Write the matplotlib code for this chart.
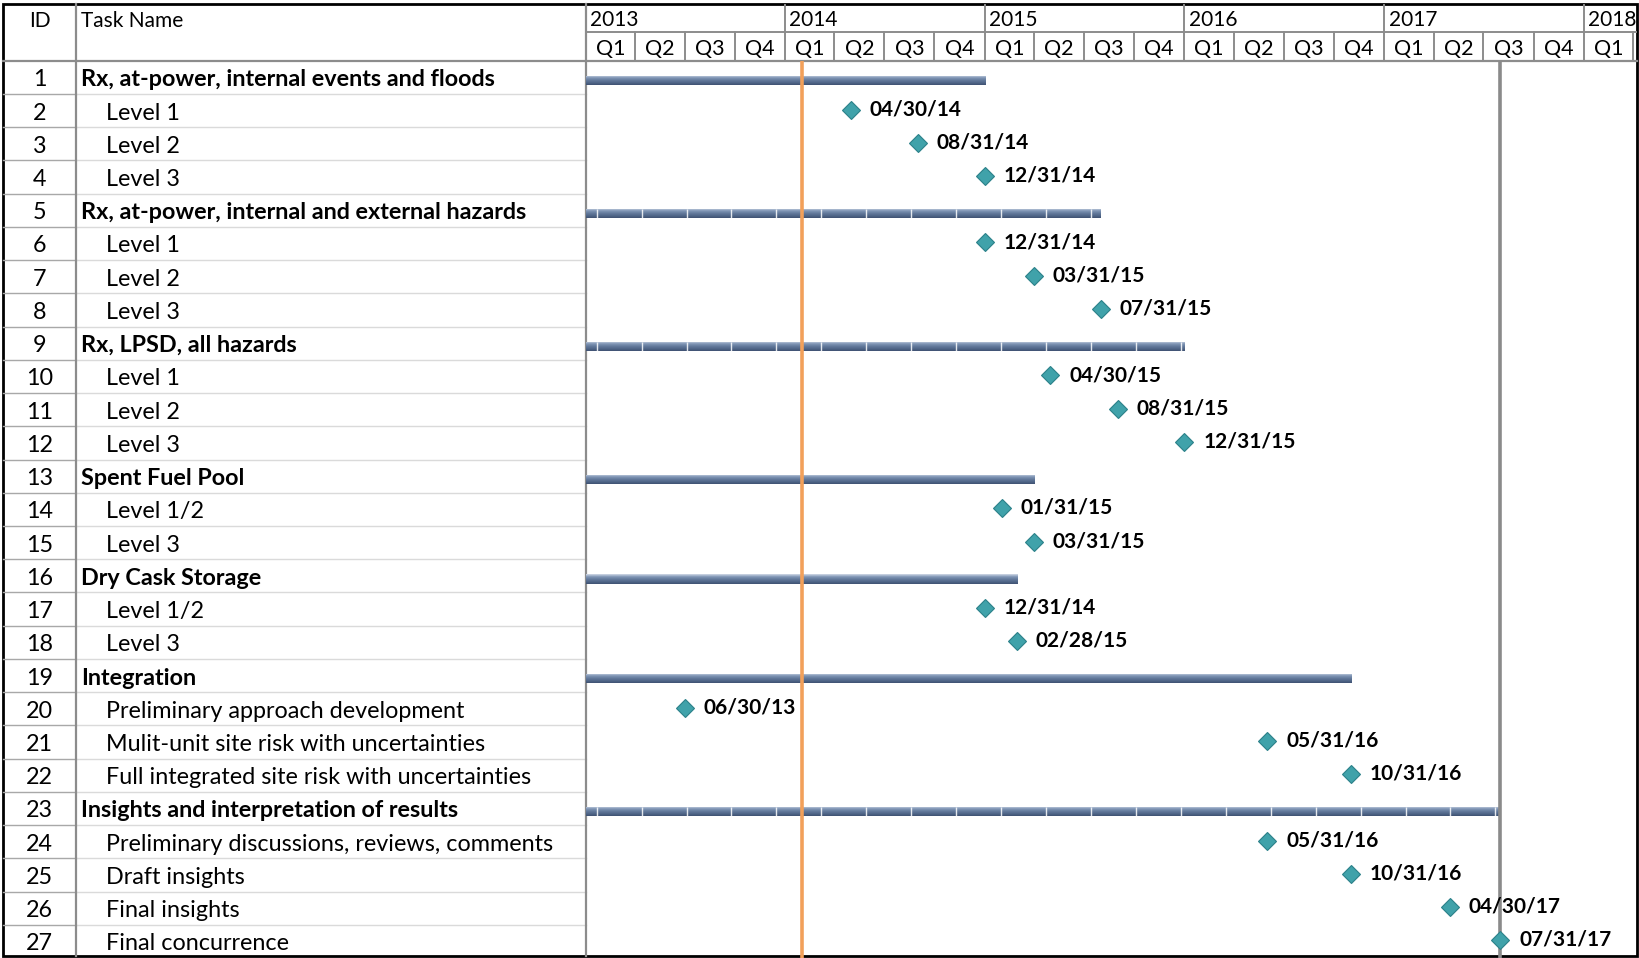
import datetime as dt
import numpy as np
import matplotlib
matplotlib.use("Agg")
import matplotlib.pyplot as plt
import matplotlib.dates as mdates
from matplotlib.colors import LinearSegmentedColormap

plt.rcParams['font.family'] = ['Lato', 'DejaVu Sans']

# ---- schedule data ----
task_names = [
    "Rx, at-power, internal events and floods", "Level 1", "Level 2", "Level 3",
    "Rx, at-power, internal and external hazards", "Level 1", "Level 2", "Level 3",
    "Rx, LPSD, all hazards", "Level 1", "Level 2", "Level 3",
    "Spent Fuel Pool", "Level 1/2", "Level 3",
    "Dry Cask Storage", "Level 1/2", "Level 3",
    "Integration", "Preliminary approach development",
    "Mulit-unit site risk with uncertainties",
    "Full integrated site risk with uncertainties",
    "Insights and interpretation of results",
    "Preliminary discussions, reviews, comments", "Draft insights",
    "Final insights", "Final concurrence",
]
summary_rows = [1, 5, 9, 13, 16, 19, 23]
summary_starts = ["2013-01-01"] * 7
summary_ends = ["2014-12-31", "2015-07-31", "2015-12-31", "2015-03-31",
                "2015-02-28", "2016-10-31", "2017-07-31"]
ticked_rows = [5, 9, 23]

milestone_rows = [2, 3, 4, 6, 7, 8, 10, 11, 12, 14, 15, 17, 18,
                  20, 21, 22, 24, 25, 26, 27]
milestone_dates = ["04/30/14", "08/31/14", "12/31/14",
                   "12/31/14", "03/31/15", "07/31/15",
                   "04/30/15", "08/31/15", "12/31/15",
                   "01/31/15", "03/31/15",
                   "12/31/14", "02/28/15",
                   "06/30/13", "05/31/16", "10/31/16",
                   "05/31/16", "10/31/16", "04/30/17", "07/31/17"]

years = [2013, 2014, 2015, 2016, 2017, 2018]
quarters = ["Q1", "Q2", "Q3", "Q4"]
status_date = "2014-02-01"
project_finish = "2017-07-31"
view_start, view_end = "2013-01-01", "2018-04-08"

# ---- layout (pixels) ----
W, H = 1640, 958
LEFT, RIGHT, TOP, BOTTOM = 3, 1637, 4, 956
ID_X, CHART_X = 76.5, 585.7
HDR_MID, HDR_BOT = 32, 60.7
n_rows = len(task_names)
row_h = (H - HDR_BOT) / n_rows

FS = 16.8       # table text
FS_HDR = 15     # timescale / column headers
FS_LBL = 15     # milestone date labels
bar_cmap = LinearSegmentedColormap.from_list(
    "bar", ["#d3dbe7", "#8499b8", "#657c9e", "#52688a", "#3f5172"])


def d(s):
    return mdates.date2num(dt.datetime.strptime(s, "%Y-%m-%d"))


def md(s):
    return mdates.date2num(dt.datetime.strptime(s, "%m/%d/%y"))


fig = plt.figure(figsize=(W / 100, H / 100), dpi=100)

# table grid and text, in pixel coordinates
bg = fig.add_axes([0, 0, 1, 1])
bg.set_xlim(0, W)
bg.set_ylim(H, 0)
bg.axis("off")

for i in range(1, n_rows):
    y = HDR_BOT + i * row_h
    bg.plot([LEFT, ID_X], [y, y], color="#a8a8a8", lw=1)
    bg.plot([ID_X, CHART_X], [y, y], color="#dadada", lw=1)
bg.plot([LEFT, RIGHT], [HDR_BOT, HDR_BOT], color="#8c8c8c", lw=1.6)
bg.plot([ID_X, ID_X], [TOP, BOTTOM], color="#8c8c8c", lw=1.6)
bg.plot([CHART_X, CHART_X], [TOP, BOTTOM], color="#8c8c8c", lw=1.6)
bg.add_patch(plt.Rectangle((LEFT, TOP), RIGHT - LEFT, BOTTOM - TOP,
                           fill=False, ec="black", lw=2))

bg.text((LEFT + ID_X) / 2, 21, "ID", ha="center", va="center", fontsize=FS_HDR)
bg.text(81, 21, "Task Name", ha="left", va="center", fontsize=FS_HDR)

for i, name in enumerate(task_names):
    row = i + 1
    y = HDR_BOT + (i + 0.5) * row_h + 2.5
    bg.text((LEFT + ID_X) / 2, y, str(row), ha="center", va="center", fontsize=FS)
    if row in summary_rows:
        bg.text(81, y, name, ha="left", va="center", fontsize=FS, fontweight="bold")
    else:
        bg.text(106, y, name, ha="left", va="center", fontsize=FS)

# timescale header
x0, x1 = d(view_start), d(view_end)
hax = fig.add_axes([CHART_X / W, (H - HDR_BOT) / H,
                    (RIGHT - CHART_X) / W, (HDR_BOT - TOP) / H])
hax.set_xlim(x0, x1)
hax.set_ylim(0, 2)
hax.axis("off")
hax.axhline(1, color="#8c8c8c", lw=1.4)
for yr in years:
    ys = mdates.date2num(dt.datetime(yr, 1, 1))
    hax.plot([ys, ys], [1, 2], color="#8c8c8c", lw=1.4)
    hax.annotate(str(yr), (ys, 1.42), xytext=(3, 0), textcoords="offset points",
                 ha="left", va="center", fontsize=FS_HDR, annotation_clip=False,
                 clip_on=True)
    for q, ql in enumerate(quarters):
        qs = mdates.date2num(dt.datetime(yr, 3 * q + 1, 1))
        qe = mdates.date2num(dt.datetime(yr + (q == 3), (3 * q + 3) % 12 + 1, 1))
        if qs >= x1:
            continue
        hax.plot([qs, qs], [0, 1], color="#8c8c8c", lw=1.4)
        if (qs + qe) / 2 < x1:
            hax.text((qs + qe) / 2, 0.42, ql, ha="center", va="center",
                     fontsize=FS_HDR + 0.5)

# gantt area
ax = fig.add_axes([CHART_X / W, 0, (RIGHT - CHART_X) / W, (H - HDR_BOT) / H])
ax.set_facecolor("none")
for s in ax.spines.values():
    s.set_visible(False)
ax.set_xticks([])
ax.set_yticks([])

bar_h = 0.28
bar_off = 0.1
grad = np.linspace(0, 1, 64).reshape(-1, 1)
for row, st, en in zip(summary_rows, summary_starts, summary_ends):
    xs, xe = d(st), d(en) + 1
    yc = row + bar_off
    rect = ax.barh(yc, xe - xs, left=xs, height=bar_h, color="#5d7396", lw=0)[0]
    im = ax.imshow(grad, cmap=bar_cmap, aspect="auto",
                   extent=(xs, xe, yc + bar_h / 2, yc - bar_h / 2),
                   interpolation="bilinear", zorder=2)
    im.set_clip_path(rect)
    if row in ticked_rows:
        tx = np.arange(xs + 20, xe - 5, 82.2)
        ax.vlines(tx, yc - bar_h / 2, yc + bar_h / 2, color="white", lw=1,
                  alpha=0.85, zorder=3)

ax.axvline(d(status_date), color="#f2a05a", lw=2.6, zorder=4)
ax.axvline(d(project_finish) + 1, color="#8a8a8a", lw=2.6, zorder=4)

for row, ms in zip(milestone_rows, milestone_dates):
    xm = md(ms) + 1
    ax.plot(xm, row - 0.03, marker="D", ms=9, mfc="#40a2aa", mec="#2c8189",
            mew=0.8, zorder=5)
    ax.annotate(ms, (xm, row - 0.03), xytext=(13.5, 0.3), textcoords="offset points",
                ha="left", va="center", fontsize=FS_LBL, fontweight="bold", zorder=6,
                annotation_clip=False)

ax.set_xlim(x0, x1)
ax.set_ylim(n_rows + 0.5, 0.5)

fig.savefig("out.png", dpi=100)
